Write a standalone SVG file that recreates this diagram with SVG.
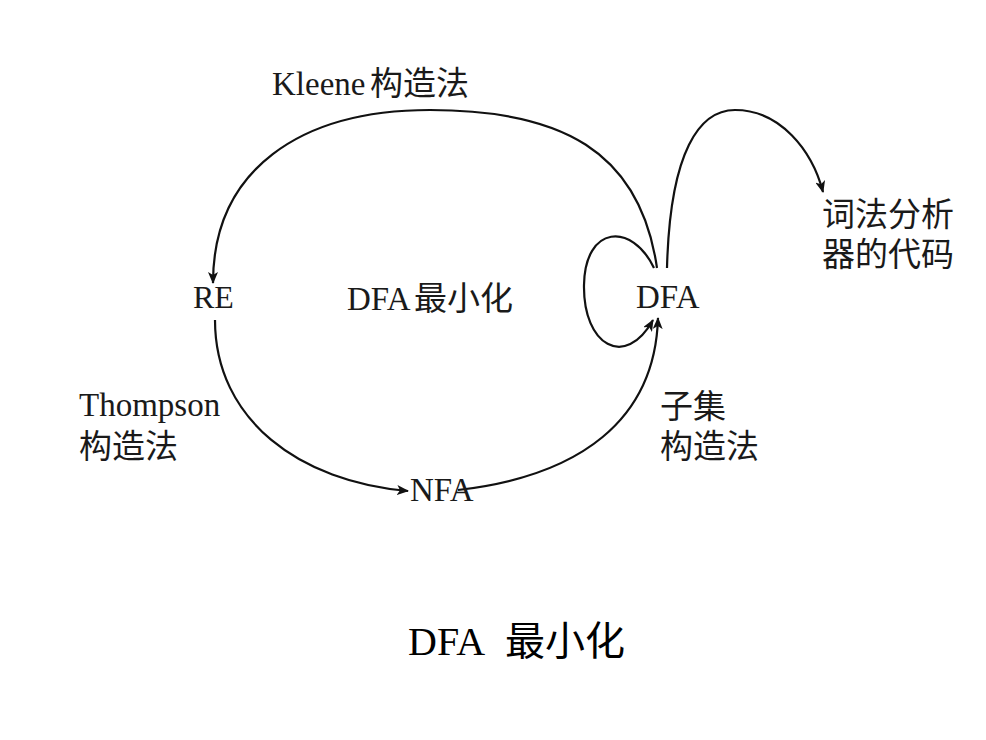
<svg xmlns="http://www.w3.org/2000/svg" width="986" height="740" viewBox="0 0 986 740">
<style>
.t{font-family:"Liberation Serif","Noto Sans CJK SC",serif;font-size:33px;fill:#1a1a1a}
.c{fill:none;stroke:#111;stroke-width:2.2}
</style>
<defs>
<marker id="ah" viewBox="0 0 12 10" refX="11" refY="5" markerWidth="12" markerHeight="10" markerUnits="userSpaceOnUse" orient="auto">
<path d="M0,0 L12,5 L0,10 L3,5 Z" fill="#111"/>
</marker>
</defs>
<rect width="986" height="740" fill="#fff"/>
<g id="connectors">
<path class="c" marker-end="url(#ah)" d="M657 268 C640 150 560 110 430 110 C300 110 213 170 213 283"/>
<path class="c" marker-end="url(#ah)" d="M215 320 C215 420 300 482 408 491"/>
<path class="c" marker-end="url(#ah)" d="M458 490 C580 476 655 420 658 318"/>
<path class="c" marker-end="url(#ah)" d="M654 268 C632 222 585 225 584 285 C583 345 625 370 653 320"/>
<path class="c" marker-end="url(#ah)" d="M667 268 C670 150 700 110 735 110 C780 110 812 150 823 192"/>
</g>
<g id="RE"><text class="t" x="193" y="308" style="font-size:32px">RE</text></g>
<g id="center-label"><text class="t" x="347" y="310"><tspan>DFA</tspan><tspan x="414">最小化</tspan></text></g>
<g id="DFA"><text class="t" x="636" y="308">DFA</text></g>
<g id="NFA"><text class="t" x="410" y="501">NFA</text></g>
<g id="lexer-code"><text class="t" x="822" y="226">词法分析</text><text class="t" x="822" y="266">器的代码</text></g>
<g id="kleene-label"><text class="t" x="272" y="95"><tspan>Kleene</tspan><tspan x="370">构造法</tspan></text></g>
<g id="thompson-label"><text class="t" x="79" y="416">Thompson</text><text class="t" x="79" y="458">构造法</text></g>
<g id="subset-label"><text class="t" x="660" y="418">子集</text><text class="t" x="660" y="458">构造法</text></g>
<g id="caption"><text class="t" x="408" y="655" style="font-size:40px;fill:#000"><tspan>DFA</tspan><tspan x="505">最小化</tspan></text></g>
</svg>
